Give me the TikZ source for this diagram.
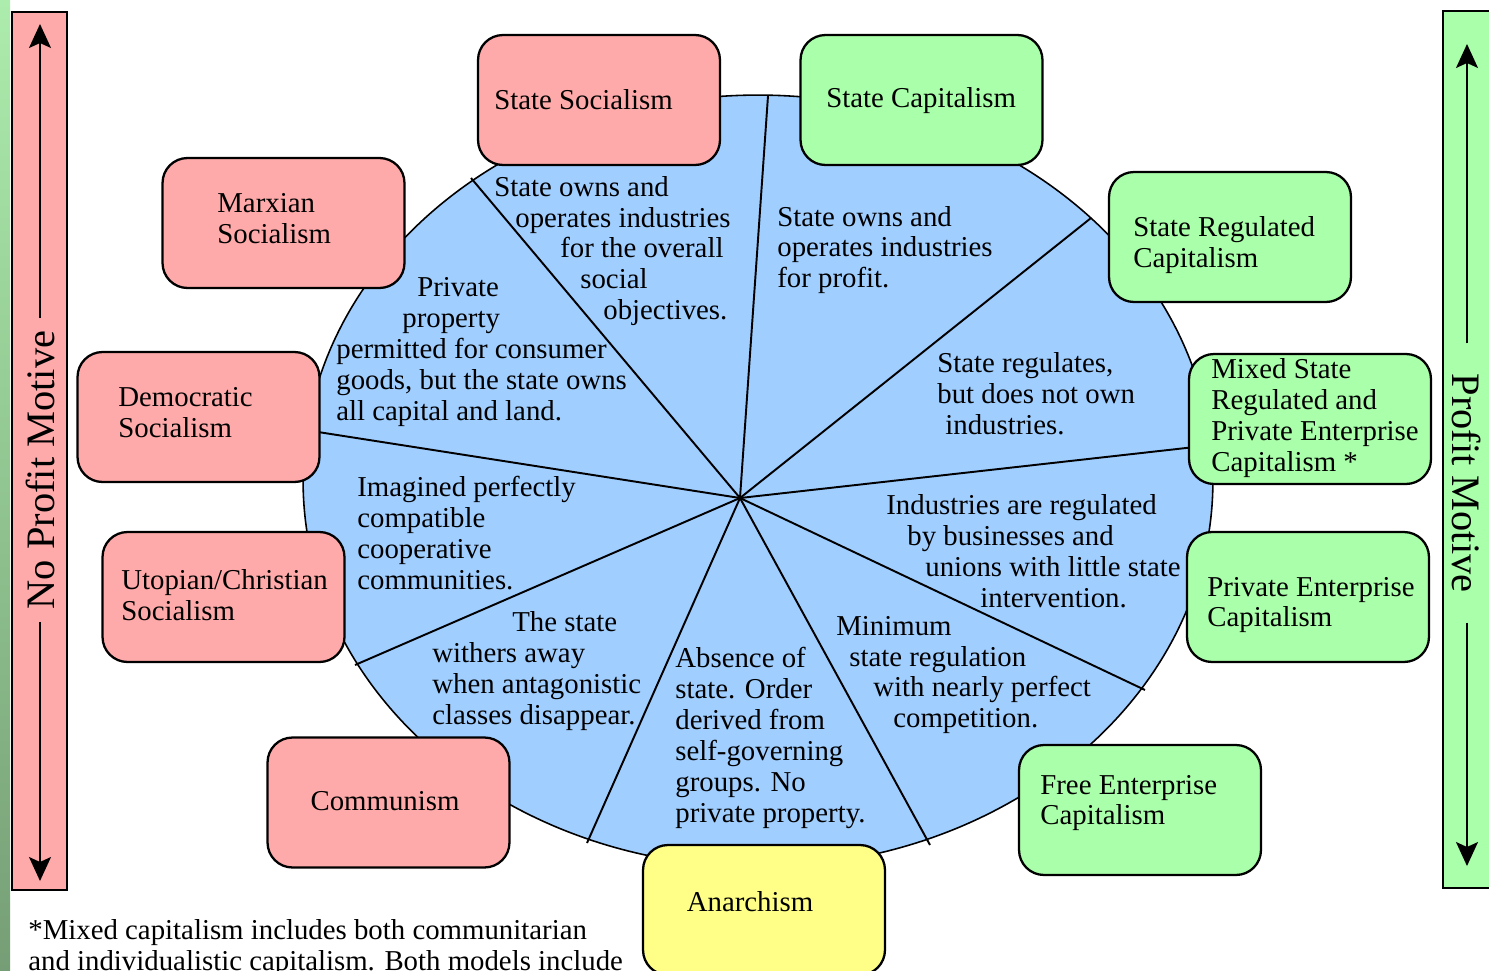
\documentclass[tikz,border=0pt]{standalone}
\usepackage{fontspec}
\setmainfont{Liberation Serif}
\usetikzlibrary{arrows.meta,positioning}
\newlength\pxu
\setlength\pxu{0.02cm}
\newcommand\ind[1]{\hspace*{#1\pxu}}
\definecolor{wheelblue}{RGB}{160,206,255}
\definecolor{nopink}{RGB}{255,170,170}
\definecolor{profgreen}{RGB}{170,255,170}
\definecolor{anyellow}{RGB}{255,255,136}
\tikzset{
sysbox/.style={
  rectangle,
  rounded corners=0.5cm,
  line width=1.3pt,
  draw=black,
  minimum width=4.84cm,
  minimum height=2.6cm,
  inner sep=0pt,
  }
}
\tikzset{
boxtext/.style={
  anchor=west,
  align=left,
  inner sep=0pt,
  font=\fontsize{16.4}{17.6}\selectfont,
  }
}
\tikzset{
spoke/.style={
  line width=1.1pt,
  }
}
\tikzset{
sidetext/.style={
  inner sep=0pt,
  font=\fontsize{23}{24}\selectfont,
  }
}
\tikzset{
sideline/.style={
  line width=1pt,
  -{Stealth[length=0.48cm,width=0.44cm,inset=0.1cm]}
  }
}
\begin{document}
\begin{tikzpicture}[x=0.02cm,y=-0.02cm]
    \useasboundingbox (0,0) rectangle (1489,971);
    \shade[top color={rgb,255:red,172;green,236;blue,172}, bottom color={rgb,255:red,118;green,158;blue,118}] (0,0) rectangle (10,971);
    % profit motive bars
    \draw[fill=nopink, line width=1.1pt] (12,12) rectangle (67,890);
    \draw[fill=profgreen, line width=1.1pt] (1443,11) rectangle (1500,888);
    \node[sidetext, rotate=90, inner xsep=7pt] (no_profit) at (40,470) {No Profit Motive};
    \node[sidetext, rotate=-90, inner xsep=17pt] (profit) at (1467,483) {Profit Motive};
    \coordinate (np_top) at (40,24);
    \coordinate (np_bot) at (40,881);
    \coordinate (p_top) at (1467,44);
    \coordinate (p_bot) at (1467,866);
    \draw[sideline] (no_profit.east) -- (np_top);
    \draw[sideline] (no_profit.west) -- (np_bot);
    \draw[sideline] (profit.west) -- (p_top);
    \draw[sideline] (profit.east) -- (p_bot);

    % the wheel
    \draw[fill=wheelblue, line width=0.9pt] (758,481) ellipse [x radius=9.1cm, y radius=7.72cm];
    \coordinate (hub) at (740,498);
    \foreach \px/\py [count=\i] in {768/96,1091/218,1195/447,1145/690,930/845,587/843,355/665,318/432,471/178}
        \coordinate (e\i) at (\px,\py);
    \foreach \i in {1,...,9}
        \draw[spoke] (hub) -- (e\i);

    % systems
    \node[sysbox, fill=nopink] (st_soc) at (599,100) {};
    \node[sysbox, fill=profgreen] (st_cap) at (921.5,100) {};
    \node[sysbox, fill=nopink] (marx_soc) at (283.5,223) {};
    \node[sysbox, fill=profgreen] (st_reg_cap) at (1230,237) {};
    \node[sysbox, fill=nopink] (dem_soc) at (198.5,417) {};
    \node[sysbox, fill=profgreen] (mixed_cap) at (1310,419) {};
    \node[sysbox, fill=nopink] (utop_soc) at (223.5,597) {};
    \node[sysbox, fill=profgreen] (priv_cap) at (1308,597) {};
    \node[sysbox, fill=nopink] (commun) at (388.5,802.5) {};
    \node[sysbox, fill=profgreen] (free_cap) at (1140,810) {};
    \node[sysbox, fill=anyellow] (anarch) at (764,910) {};

    \node[boxtext] (st_soc_t) at (494,100) {State Socialism};
    \node[boxtext] (st_cap_t) at (826,101) {State Capitalism};
    \node[boxtext] (marx_soc_t) at (217,219) {Marxian\\Socialism};
    \node[boxtext] (st_reg_cap_t) at (1133,245) {State Regulated\\Capitalism};
    \node[boxtext] (dem_soc_t) at (118,413) {Democratic\\Socialism};
    \node[boxtext] (mixed_cap_t) at (1211,418) {Mixed State\\Regulated and\\Private Enterprise\\Capitalism *};
    \node[boxtext] (utop_soc_t) at (121,595) {Utopian/Christian\\Socialism};
    \node[boxtext] (priv_cap_t) at (1207,605) {Private Enterprise\\Capitalism};
    \node[boxtext, anchor=center] (commun_t) at (385,801) {Communism};
    \node[boxtext] (free_cap_t) at (1040,803) {Free Enterprise\\Capitalism};
    \node[boxtext, anchor=center] (anarch_t) at (750,902) {Anarchism};

    % sectors
    \node[boxtext] (sec_soc_obj) at (494,251) {State owns and\\\ind{21}operates industries\\\ind{66}for the overall\\\ind{86}social\\\ind{109}objectives.};
    \node[boxtext] (sec_profit) at (777,250) {State owns and\\operates industries\\for profit.};
    \node[boxtext] (sec_consumer) at (336,352) {\ind{81}Private\\\ind{66}property\\permitted for consumer\\goods, but the state owns\\all capital and land.};
    \node[boxtext] (sec_regulates) at (937,394) {State regulates,\\but does not own\\\ind{8}industries.};
    \node[boxtext] (sec_imagined) at (357,533) {Imagined perfectly\\compatible\\cooperative\\communities.};
    \node[boxtext] (sec_unions) at (886,551) {Industries are regulated\\\ind{21}by businesses and\\\ind{39}unions with little state\\\ind{94}intervention.};
    \node[boxtext] (sec_withers) at (432,671) {\ind{80}The state\\withers away\\when antagonistic\\classes disappear.};
    \node[boxtext] (sec_absence) at (675,738) {Absence of\\state. Order\\derived from\\self-governing\\groups. No\\private property.};
    \node[boxtext] (sec_minimum) at (836,675) {Minimum\\\ind{13}state regulation\\\ind{37}with nearly perfect\\\ind{57}competition.};

    \node[boxtext] (foot_note) at (28,948) {*Mixed capitalism includes both communitarian\\and individualistic capitalism. Both models include};
\end{tikzpicture}
\end{document}
